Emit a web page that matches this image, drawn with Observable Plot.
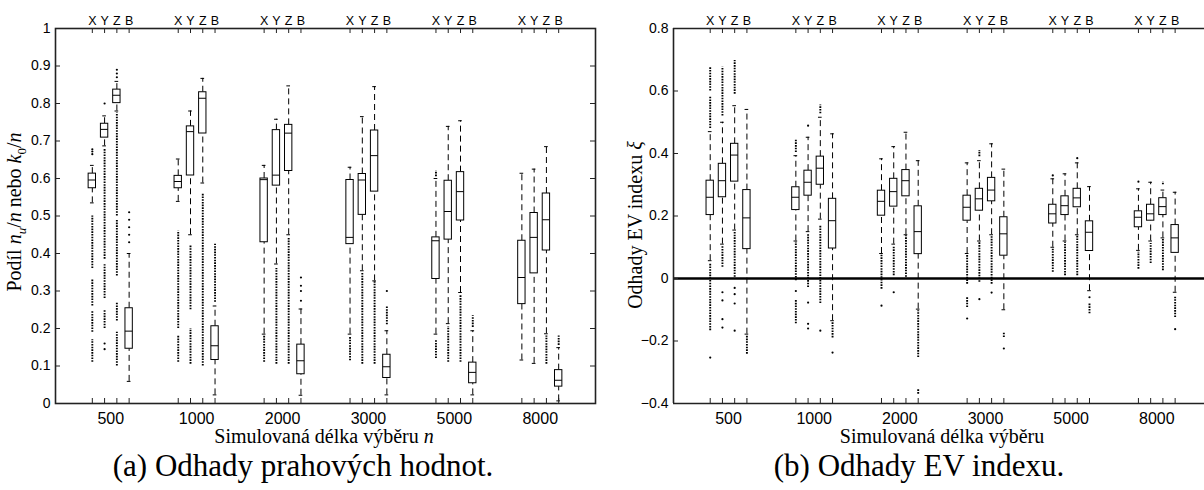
<!DOCTYPE html>
<html><head><meta charset="utf-8">
<script src="https://cdn.jsdelivr.net/npm/d3@7"></script>
<script src="https://cdn.jsdelivr.net/npm/@observablehq/plot@0.6"></script>
<style>
body{margin:0;background:#fff;}
#wrap{position:relative;width:1204px;height:490px;overflow:hidden;background:#fff;}
.panel{position:absolute;top:0;}
.serif{font-family:"Liberation Serif","Times New Roman",serif;color:#000;white-space:nowrap;}
.cap{position:absolute;top:446px;font-size:31px;line-height:40px;text-align:center;width:500px;}
.xlab{position:absolute;top:424px;font-size:20px;line-height:24px;text-align:center;width:400px;}
.ylab{position:absolute;font-size:20px;line-height:24px;height:24px;width:300px;text-align:center;transform:rotate(-90deg);transform-origin:50% 50%;}
</style>
</head><body>
<div id="wrap">
  <div id="pa" class="panel" style="left:0"></div>
  <div id="pb" class="panel" style="left:602px"></div>
  <div class="serif ylab" style="left:-136px;top:200px;">Podíl <i>n<sub style="font-size:13px">u</sub></i>/<i>n</i> nebo <i>k</i><sub style="font-size:13px">0</sub>/<i>n</i></div>
  <div class="serif ylab" style="left:485px;top:213px;">Odhady EV indexu <i>ξ</i></div>
  <div class="serif xlab" style="left:124px;">Simulovaná délka výběru <i>n</i></div>
  <div class="serif xlab" style="left:742px;">Simulovaná délka výběru</div>
  <div class="serif cap" style="left:53px;">(a) Odhady prahových hodnot.</div>
  <div class="serif cap" style="left:669px;">(b) Odhady EV indexu.</div>
</div>
<script>
const groups = ["500","1000","2000","3000","5000","8000"];
const methods = ["X","Y","Z","B"];

// Panel (a): threshold estimates, order = group-major, methods X,Y,Z,B
const aQ1  = [.574,.709,.801,.146, .574,.608,.72,.116, .43,.581,.62,.078, .425,.503,.565,.068, .332,.437,.488,.054, .265,.347,.408,.045];
const aMed = [.596,.731,.822,.193, .592,.725,.814,.154, .597,.609,.721,.114, .443,.596,.661,.098, .434,.512,.565,.083, .336,.443,.49,.062];
const aQ3  = [.613,.746,.837,.254, .607,.739,.83,.206, .60,.729,.743,.157, .596,.612,.728,.13, .443,.594,.617,.109, .434,.508,.56,.089];
const aWlo = [.535,.687,.78,.059, .539,.45,.588,.023, .185,.372,.45,.022, .185,.354,.327,.023, .185,.213,.296,.023, .116,.107,.186,.007];
const aWhi = [.635,.767,.859,.40, .652,.78,.867,.26, .635,.758,.847,.252, .63,.765,.845,.194, .60,.739,.754,.194, .614,.625,.685,.149];
const aBands = [
 [[.36,.50],[.26,.33],[.19,.245],[.11,.17]], [[.385,.68],[.28,.37],[.20,.25]], [[.5,.775],[.34,.49],[.22,.27],[.10,.19]], [],
 [[.20,.46],[.11,.18]], [[.25,.42],[.105,.20]], [[.10,.56]], [[.27,.425]],
 [[.11,.18]], [[.105,.36]], [[.105,.44]], [],
 [[.114,.176]], [[.105,.35]], [[.105,.325]], [[.21,.26]],
 [[.12,.17],[.605,.62]], [[.11,.205]], [[.11,.29]], [[.203,.234]],
 [], [], [[.105,.18]], [[.155,.18]]
];
const aPts = [
 [.665,.672,.678], [.145,.16,.8], [.87,.88,.89], [.43,.45,.47,.49,.51],
 [], [], [], [],
 [], [], [], [.274,.30,.314,.336],
 [], [], [], [.30],
 [], [], [], [],
 [], [], [], []
];
const aTicks = [0,0.1,0.2,0.3,0.4,0.5,0.6,0.7,0.8,0.9,1];

// Panel (b): EV index estimates
const bQ1  = [.203,.26,.31,.094, .219,.265,.30,.096, .201,.23,.263,.078, .185,.217,.247,.073, .176,.203,.228,.088, .164,.185,.203,.082];
const bMed = [.26,.313,.395,.194, .26,.308,.353,.185, .247,.278,.313,.15, .228,.255,.283,.143, .207,.233,.258,.148, .196,.207,.23,.13];
const bQ3  = [.313,.367,.431,.283, .292,.345,.39,.255, .281,.319,.347,.231, .265,.287,.322,.196, .236,.263,.287,.183, .215,.236,.257,.171];
const bWlo = [.057,.11,.155,-.178, .12,.15,.19,-.135, .08,.11,.14,-.098, .08,.12,.14,-.10, .10,.12,.14,-.039, .09,.12,.13,-.044];
const bWhi = [.47,.50,.553,.541, .393,.452,.516,.463, .383,.422,.468,.377, .37,.377,.431,.35, .319,.335,.37,.294, .287,.308,.283,.276];
const bBands = [
 [[.48,.58],[.60,.675],[-.167,.046]], [[.52,.676],[.036,.105]], [[.59,.698],[.004,.148]], [[-.242,-.185]],
 [[.403,.445],[-.007,.116],[-.145,-.07]], [[-.029,.142]], [[.527,.555],[-.08,.17]], [[-.19,-.14]],
 [[-.034,.078]], [[.009,.10]], [[.004,.137]], [[-.253,-.103],[-.37,-.353]],
 [[-.018,.078],[-.093,-.06]], [[.39,.41],[-.012,.116]], [[-.018,.137]], [[-.189,-.173]],
 [[.02,.094]], [[.009,.116]], [[.009,.137]], [[-.113,-.08]],
 [[.03,.084]], [[.048,.112]], [[.025,.126],[.30,.31]], [[-.125,-.06]]
];
const bPts = [
 [-.253], [-.044,-.07,-.13,-.157], [-.03,-.05,-.08,-.167], [],
 [-.04], [.489,-.077,-.145,-.16], [-.167], [-.237],
 [-.087], [-.044], [], [],
 [-.128], [-.066], [-.045], [-.224],
 [.33], [], [.385], [-.06],
 [.31], [], [], [-.162]
];
const bTicks = [-0.4,-0.2,0,0.2,0.4,0.6,0.8];

const STEP = 7; // group spacing in position units
const positions = d3.range(groups.length * methods.length).map(i => STEP * Math.floor(i / 4) + (i % 4));
const centers = groups.map((g, i) => STEP * i + 1.5);
const fmt = d => (d < 0 ? "\u2212" : "") + String(Math.abs(d));

function panel({q1, med, q3, wlo, whi, bands, pts, yDomain, yTicks, marginLeft, marginRight, xMax, right}) {
  const W = 602, H = 450, mt = 28, mb = 47;
  const pw = W - marginLeft - marginRight, ph = H - mt - mb;
  const boxes = q1.map((_, i) => ({p: positions[i], q1: q1[i], med: med[i], q3: q3[i], wlo: wlo[i], whi: whi[i]}));
  const bandRows = bands.flatMap((arr, i) => arr.map(([lo, hi]) => ({p: positions[i], lo, hi})));
  const ptRows = pts.flatMap((arr, i) => arr.map(v => ({p: positions[i], v})));
  const hw = 0.3, cw = 0.15;
  const ink = "#000", axisInk = "#222";
  const marks = [
    // outliers
    Plot.ruleX(bandRows, {x: "p", y1: "lo", y2: "hi", stroke: ink, strokeWidth: 1.9, strokeDasharray: "1.6,1.1"}),
    Plot.dot(ptRows, {x: "p", y: "v", r: 1.1, fill: ink, stroke: null}),
    // whiskers
    Plot.ruleX(boxes, {x: "p", y1: "q3", y2: "whi", stroke: ink, strokeWidth: 1, strokeDasharray: "6,4"}),
    Plot.ruleX(boxes, {x: "p", y1: "wlo", y2: "q1", stroke: ink, strokeWidth: 1, strokeDasharray: "6,4"}),
    Plot.ruleY(boxes, {y: "whi", x1: d => d.p - cw, x2: d => d.p + cw, stroke: ink, strokeWidth: 1}),
    Plot.ruleY(boxes, {y: "wlo", x1: d => d.p - cw, x2: d => d.p + cw, stroke: ink, strokeWidth: 1}),
    // boxes and medians
    Plot.rect(boxes, {x1: d => d.p - hw, x2: d => d.p + hw, y1: "q1", y2: "q3", fill: "white", stroke: ink, strokeWidth: 1}),
    Plot.ruleY(boxes, {y: "med", x1: d => d.p - hw, x2: d => d.p + hw, stroke: ink, strokeWidth: 1}),
  ];
  if (right) {
    marks.push(Plot.ruleY([0], {stroke: ink, strokeWidth: 2.6}));
    marks.push(Plot.ruleX([-3], {stroke: axisInk, strokeWidth: 1.6}));
    marks.push(Plot.ruleY(yDomain, {stroke: axisInk, strokeWidth: 1.6}));
  } else {
    marks.push(Plot.frame({stroke: axisInk, strokeWidth: 1.6}));
    marks.push(Plot.tickY(yTicks, {insetLeft: pw - 5, stroke: axisInk}));
  }
  // inward tick marks
  marks.push(Plot.tickY(yTicks, {insetRight: pw - 5, stroke: axisInk}));
  marks.push(Plot.tickX(positions, {insetBottom: ph - 5, stroke: axisInk}));
  marks.push(Plot.tickX(positions, {insetTop: ph - 5, stroke: axisInk}));
  // tick labels
  marks.push(Plot.axisY({anchor: "left", ticks: yTicks, tickSize: 0, tickPadding: 5, fontSize: 14, label: null, tickFormat: fmt}));
  marks.push(Plot.axisX({anchor: "top", ticks: positions, tickSize: 0, tickPadding: 4, fontSize: 12.5, label: null,
    tickFormat: d => methods[Math.round(d) % STEP]}));
  marks.push(Plot.axisX({anchor: "bottom", ticks: centers, tickSize: 0, tickPadding: 9, fontSize: 16, label: null,
    tickFormat: d => groups[Math.round((d - 1.5) / STEP)]}));
  return Plot.plot({
    width: W, height: H,
    marginLeft, marginRight, marginTop: mt, marginBottom: mb,
    x: {domain: [-3, xMax], axis: null},
    y: {domain: yDomain, axis: null},
    style: {fontFamily: "'Liberation Sans', Arial, Helvetica, sans-serif", background: "transparent", color: "#000"},
    marks
  });
}

document.getElementById("pa").append(panel({
  q1: aQ1, med: aMed, q3: aQ3, wlo: aWlo, whi: aWhi, bands: aBands, pts: aPts,
  yDomain: [0, 1], yTicks: aTicks, marginLeft: 55, marginRight: 7, xMax: 41, right: false
}));
document.getElementById("pb").append(panel({
  q1: bQ1, med: bMed, q3: bQ3, wlo: bWlo, whi: bWhi, bands: bBands, pts: bPts,
  yDomain: [-0.4, 0.8], yTicks: bTicks, marginLeft: 71, marginRight: 0, xMax: 40.4, right: true
}));
</script>
</body></html>
